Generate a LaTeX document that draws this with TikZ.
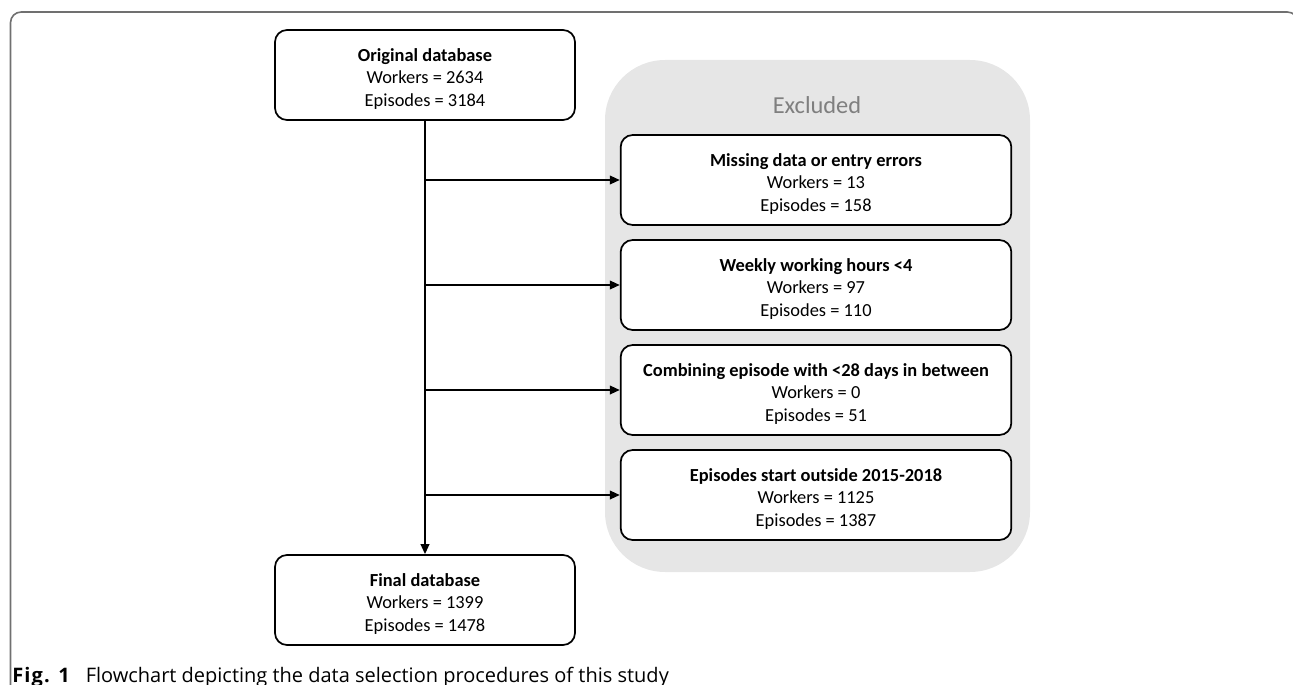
\documentclass[tikz,border=0pt]{standalone}
\usepackage{fontspec}
\setmainfont{Carlito}
\newfontfamily\capfont{Open Sans}
\usetikzlibrary{arrows.meta}
\definecolor{framegray}{HTML}{707070}
\definecolor{exfill}{HTML}{E6E6E6}
\definecolor{extext}{HTML}{7F7F7F}
\newcommand\hd[1]{\rule{0pt}{15.5pt}\textbf{#1}}
\begin{document}
\begin{tikzpicture}[x=0.75pt,y=-0.75pt,
  box/.style={draw=black, line width=1.3pt, rounded corners=9pt, fill=white, align=center,
    font=\fontsize{13.8}{16.9}\selectfont, inner sep=0pt},
  mainbox/.style={box, minimum width=225pt, minimum height=67.5pt},
  exbox/.style={box, minimum width=293pt, minimum height=67.5pt},
  conn/.style={line width=1.3pt, -{Triangle[length=7.5pt,width=6.5pt]}}]
\useasboundingbox (0,0) rectangle (1293,685);
\begin{scope}
  \clip (0,0) rectangle (1293,685);
  \draw[framegray, line width=1.2pt, rounded corners=8pt] (10.5,700) -- (10.5,12) -- (1298,12) -- (1298,700);
\end{scope}
\node[fill=exfill, rounded corners=45pt, minimum width=318.75pt, minimum height=384pt, inner sep=0pt] (grp) at (817.5,316) {};
\node[text=extext, font=\fontsize{18.3}{21}\selectfont] (exlabel) at (817,105) {Excluded};
\node[mainbox] (orig) at (425,75) {\hd{Original database}\\Workers = 2634\\Episodes = 3184};
\node[mainbox] (final) at (425,600) {\hd{Final database}\\Workers = 1399\\Episodes = 1478};
\node[exbox] (e1) at (816,180) {\hd{Missing data or entry errors}\\Workers = 13\\Episodes = 158};
\node[exbox] (e2) at (816,285) {\hd{Weekly working hours <4}\\Workers = 97\\Episodes = 110};
\node[exbox] (e3) at (816,390) {\hd{Combining episode with <28 days in between}\\Workers = 0\\Episodes = 51};
\node[exbox] (e4) at (816,495) {\hd{Episodes start outside 2015-2018}\\Workers = 1125\\Episodes = 1387};
\draw[conn] (orig.south) -- (final.north);
\foreach \e in {e1,e2,e3,e4} \draw[conn] (orig.south |- \e.west) -- (\e.west);
\node[anchor=base west, inner sep=0pt, font=\capfont\fontsize{15}{17}\selectfont] (cap) at (12,682)
  {\textbf{\addfontfeature{LetterSpace=6}Fig. 1}\hspace{11pt}Flowchart depicting the data selection procedures of this study};
\end{tikzpicture}
\end{document}
